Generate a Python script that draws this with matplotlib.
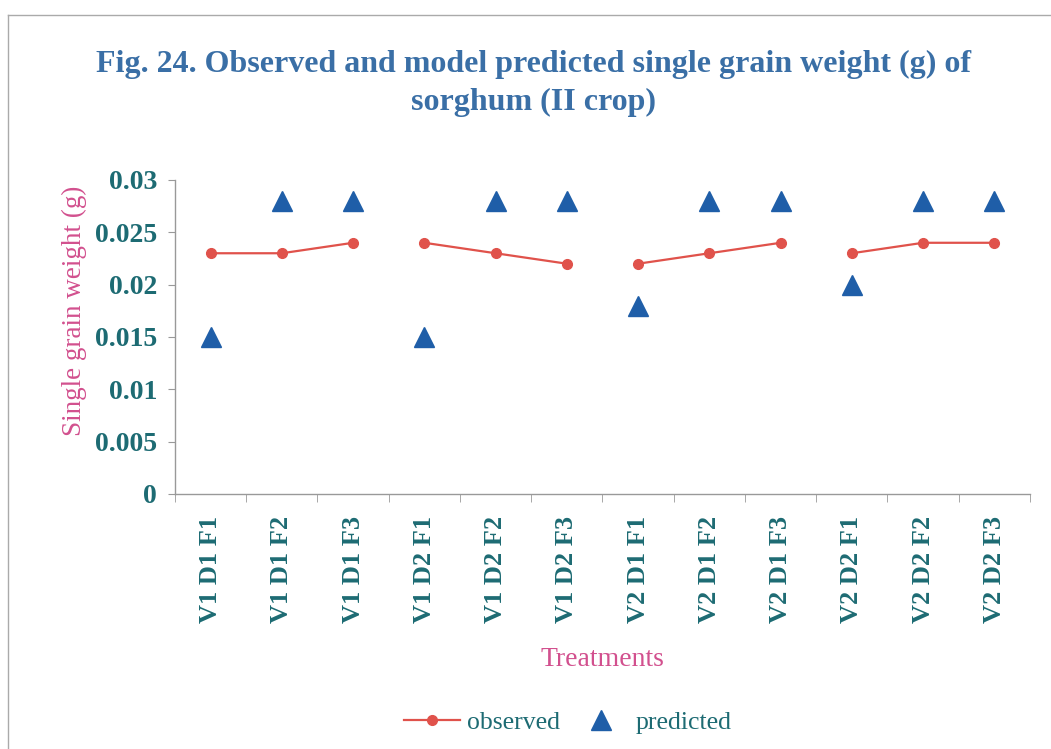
import matplotlib
matplotlib.use("Agg")
import matplotlib.pyplot as plt
from matplotlib.lines import Line2D

# treatments and single grain weight (g)
treatments = [
    "V1 D1 F1", "V1 D1 F2", "V1 D1 F3",
    "V1 D2 F1", "V1 D2 F2", "V1 D2 F3",
    "V2 D1 F1", "V2 D1 F2", "V2 D1 F3",
    "V2 D2 F1", "V2 D2 F2", "V2 D2 F3",
]
observed = [0.023, 0.023, 0.024,
            0.024, 0.023, 0.022,
            0.022, 0.023, 0.024,
            0.023, 0.024, 0.024]
predicted = [0.015, 0.028, 0.028,
             0.015, 0.028, 0.028,
             0.018, 0.028, 0.028,
             0.020, 0.028, 0.028]
y_ticks = [0, 0.005, 0.01, 0.015, 0.02, 0.025, 0.03]
y_labels = ["0", "0.005", "0.01", "0.015", "0.02", "0.025", "0.03"]

TEAL = "#1d6b73"
PINK = "#d2508e"
TITLE = "#3a6fa6"
RED = "#e0524b"
BLUE = "#1f5ea8"
SERIF = "Liberation Serif"

plt.rcParams["font.family"] = SERIF

fig = plt.figure(figsize=(10.51, 7.49), dpi=100)
ax = fig.add_axes([0.1665, 0.3405, 0.8135, 0.4192])

x = list(range(len(treatments)))

# observed is drawn as separate segments, one per V/D group
for g in range(0, len(treatments), 3):
    ax.plot(x[g:g + 3], observed[g:g + 3], color=RED, lw=1.6,
            marker="o", ms=7, markeredgecolor=RED, zorder=3)
ax.plot(x, predicted, linestyle="none", marker="^", ms=15,
        color=BLUE, zorder=4)

ax.set_xlim(-0.5, len(treatments) - 0.5)
ax.set_ylim(0, 0.03)
ax.set_yticks(y_ticks)
ax.set_yticklabels(y_labels, fontsize=20, fontweight="bold", color=TEAL)
ax.set_xticks(x)
ax.set_xticklabels(treatments, rotation=90, fontsize=19,
                   fontweight="bold", color=TEAL)
ax.set_xticks([i + 0.5 for i in range(-1, len(treatments))], minor=True)
ax.tick_params(axis="x", which="major", length=0, pad=16)
ax.tick_params(axis="x", which="minor", length=6, color="#999999",
               direction="out")
ax.tick_params(axis="y", length=5, color="#999999", pad=8)

for side in ["top", "right"]:
    ax.spines[side].set_visible(False)
for side in ["left", "bottom"]:
    ax.spines[side].set_color("#999999")
    ax.spines[side].set_linewidth(1.0)

ax.set_ylabel("Single grain weight (g)", fontsize=19.5, color=PINK)
ax.yaxis.set_label_coords(-0.103, 0.583)
fig.text(0.573, 0.119, "Treatments", fontsize=20, color=PINK,
         ha="center", va="center")

fig.text(0.508, 0.888,
         "Fig. 24. Observed and model predicted single grain weight (g) of\n"
         "sorghum (II crop)",
         fontsize=23, fontweight="bold", color=TITLE, ha="center",
         va="center", linespacing=1.4)

handles = [
    Line2D([], [], color=RED, lw=1.6, marker="o", ms=7),
    Line2D([], [], color=BLUE, lw=0, marker="^", ms=15),
]
fig.legend(handles, ["observed", "predicted"], loc="center",
           bbox_to_anchor=(0.54, 0.036), ncol=2, frameon=False,
           fontsize=18.5, labelcolor=TEAL, handlelength=2.2,
           columnspacing=0.5, handletextpad=0.25)

# faint scan frame at top and left
fig.add_artist(Line2D([0.0076, 1.0], [0.98, 0.98], color="#aaaaaa", lw=1))
fig.add_artist(Line2D([0.0076, 0.0076], [0.0, 0.98], color="#aaaaaa", lw=1))

fig.savefig("out.png", dpi=100)
